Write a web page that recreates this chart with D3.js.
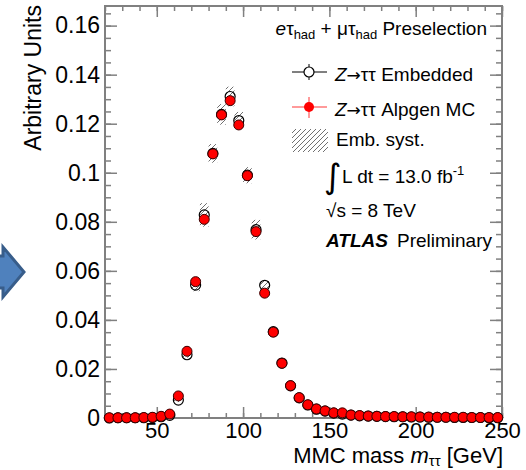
<!DOCTYPE html>
<html>
<head>
<meta charset="utf-8">
<script src="https://cdn.jsdelivr.net/npm/d3@7"></script>
<style>
  body { margin: 0; background: #fff; }
  svg { display: block; font-family: "Liberation Sans", Arial, Helvetica, sans-serif; }
</style>
</head>
<body>
<div id="chart"></div>
<script>
// bin centres of the 5 GeV bins
const binCenters = [22.5, 27.5, 32.5, 37.5, 42.5, 47.5, 52.5, 57.5, 62.5, 67.5, 72.5, 77.5, 82.5, 87.5,
  92.5, 97.5, 102.5, 107.5, 112.5, 117.5, 122.5, 127.5, 132.5, 137.5, 142.5, 147.5, 152.5, 157.5,
  162.5, 167.5, 172.5, 177.5, 182.5, 187.5, 192.5, 197.5, 202.5, 207.5, 212.5, 217.5, 222.5, 227.5,
  232.5, 237.5, 242.5, 247.5];

const embedded = [0.0000, 0.0001, 0.0001, 0.0001, 0.0001, 0.0002, 0.0005, 0.0011,
  0.0073, 0.0258, 0.0542, 0.0828, 0.1079, 0.1238, 0.1311, 0.1213, 0.0990, 0.0768, 0.0541,
  0.0352, 0.0224, 0.0131, 0.0082, 0.0053, 0.0036, 0.0028, 0.0020, 0.0016,
  0.0012, 0.0009, 0.0008, 0.0007, 0.0006, 0.0005, 0.0005, 0.0004, 0.0004, 0.0003, 0.0003, 0.0003,
  0.0002, 0.0002, 0.0002, 0.0002, 0.0001, 0.0001];

const alpgen = [0.0001, 0.0001, 0.0001, 0.0001, 0.0002, 0.0003, 0.0007, 0.0016,
  0.0090, 0.0272, 0.0556, 0.0810, 0.1077, 0.1236, 0.1294, 0.1195, 0.0988, 0.0760, 0.0509,
  0.0350, 0.0223, 0.0132, 0.0083, 0.0054, 0.0037, 0.0029, 0.0021, 0.0021,
  0.0012, 0.0010, 0.0008, 0.0007, 0.0006, 0.0006, 0.0005, 0.0005, 0.0004, 0.0004, 0.0003, 0.0003,
  0.0003, 0.0003, 0.0002, 0.0002, 0.0002, 0.0002];

// embedding systematic (absolute, +-)
const embSyst = [0, 0, 0, 0, 0, 0.0001, 0.0002, 0.0003,
  0.0008, 0.0012, 0.0025, 0.0048, 0.0038, 0.0042, 0.0040, 0.0035, 0.0033, 0.0040, 0.0022,
  0.0012, 0.0008, 0.0005, 0.0003, 0.0002, 0.0002, 0.0001, 0.0001, 0.0001,
  0.0001, 0.0001, 0.0001, 0.0001, 0, 0, 0, 0, 0, 0, 0, 0, 0, 0, 0, 0, 0, 0];

const yTicks = [0, 0.02, 0.04, 0.06, 0.08, 0.1, 0.12, 0.14, 0.16];
const xTicks = [50, 100, 150, 200, 250];

const width = 526;
const height = 470;
const frame = {left: 105, right: 502, top: 6, bottom: 418};
const binHalf = 2.5;
const markerRadius = 5;
const tickColor = '#808080';

const svg = d3.select('#chart').append('svg')
  .attr('width', width)
  .attr('height', height);

const x = d3.scaleLinear().domain([20, 250]).range([frame.left, frame.right]);
const y = d3.scaleLinear().domain([0, 0.168]).range([frame.bottom, frame.top]);

// hatch pattern for the syst band
const defs = svg.append('defs');
defs.append('pattern')
    .attr('id', 'hatch')
    .attr('patternUnits', 'userSpaceOnUse')
    .attr('width', 5)
    .attr('height', 5)
  .append('path')
    .attr('d', 'M-1,1 l2,-2 M0,5 l5,-5 M4,6 l2,-2')
    .attr('stroke', '#707070')
    .attr('stroke-width', 1);

// blue arrow from the slide, cut by the left edge
svg.append('polygon')
  .attr('points', '-40,256 3,256 3,247 24,272 3,297 3,288 -40,288')
  .attr('fill', '#4f81bd')
  .attr('stroke', '#385d8a')
  .attr('stroke-width', 3);

// axes
const styleAxis = g => {
  g.select('.domain').remove();
  g.selectAll('.tick line').attr('stroke', tickColor).attr('stroke-width', 1.5);
  g.selectAll('.tick text').attr('fill', '#000').attr('font-family', null);
};

svg.append('g')
  .attr('transform', `translate(${frame.left},0)`)
  .call(d3.axisLeft(y).tickValues(yTicks).tickSize(-12).tickPadding(5).tickFormat(d3.format('~g')))
  .call(styleAxis)
  .call(g => g.selectAll('.tick text').attr('font-size', 23));

svg.append('g')
  .attr('transform', `translate(${frame.left},0)`)
  .call(d3.axisLeft(y).tickValues(d3.range(0, 0.1675, 0.005)).tickSize(-6).tickFormat(''))
  .call(styleAxis);

svg.append('g')
  .attr('transform', `translate(${frame.right},0)`)
  .call(d3.axisRight(y).tickValues(yTicks).tickSize(-12).tickFormat(''))
  .call(styleAxis);

svg.append('g')
  .attr('transform', `translate(${frame.right},0)`)
  .call(d3.axisRight(y).tickValues(d3.range(0, 0.1675, 0.005)).tickSize(-6).tickFormat(''))
  .call(styleAxis);

svg.append('g')
  .attr('transform', `translate(0,${frame.bottom})`)
  .call(d3.axisBottom(x).tickValues(xTicks).tickSize(-11).tickPadding(4))
  .call(styleAxis)
  .call(g => g.selectAll('.tick text').attr('font-size', 22));

svg.append('g')
  .attr('transform', `translate(0,${frame.bottom})`)
  .call(d3.axisBottom(x).tickValues(d3.range(20, 251, 10)).tickSize(-5).tickFormat(''))
  .call(styleAxis);

svg.append('g')
  .attr('transform', `translate(0,${frame.top})`)
  .call(d3.axisTop(x).tickValues(xTicks).tickSize(-11).tickFormat(''))
  .call(styleAxis);

svg.append('g')
  .attr('transform', `translate(0,${frame.top})`)
  .call(d3.axisTop(x).tickValues(d3.range(20, 251, 10)).tickSize(-5).tickFormat(''))
  .call(styleAxis);

svg.append('rect')
  .attr('x', frame.left)
  .attr('y', frame.top)
  .attr('width', frame.right - frame.left)
  .attr('height', frame.bottom - frame.top)
  .attr('fill', 'none')
  .attr('stroke', tickColor)
  .attr('stroke-width', 2);

// axis titles
svg.append('text')
  .attr('transform', `translate(41,${frame.top - 1}) rotate(-90)`)
  .attr('text-anchor', 'end')
  .attr('font-size', 23)
  .text('Arbitrary Units');

const xTitle = svg.append('text')
  .attr('x', 503)
  .attr('y', 463)
  .attr('text-anchor', 'end')
  .attr('font-size', 22);
xTitle.append('tspan').text('MMC mass ');
xTitle.append('tspan').attr('font-style', 'italic').text('m');
xTitle.append('tspan').attr('font-size', 15).attr('dy', 3).text('ττ');
xTitle.append('tspan').attr('dy', -3).text(' [GeV]');

// data
const bins = binCenters.map((c, i) => ({c, emb: embedded[i], mc: alpgen[i], syst: embSyst[i]}));

svg.append('g')
  .selectAll('rect')
  .data(bins.filter(d => d.syst > 0))
  .join('rect')
    .attr('x', d => x(d.c - binHalf))
    .attr('width', d => x(d.c + binHalf) - x(d.c - binHalf))
    .attr('y', d => y(d.emb + d.syst))
    .attr('height', d => y(d.emb - d.syst) - y(d.emb + d.syst))
    .attr('fill', 'url(#hatch)');

svg.append('g')
  .selectAll('circle')
  .data(bins)
  .join('circle')
    .attr('cx', d => x(d.c))
    .attr('cy', d => y(d.emb))
    .attr('r', markerRadius)
    .attr('fill', 'none')
    .attr('stroke', '#000')
    .attr('stroke-width', 1.2);

svg.append('g')
  .selectAll('circle')
  .data(bins)
  .join('circle')
    .attr('cx', d => x(d.c))
    .attr('cy', d => y(d.mc))
    .attr('r', markerRadius)
    .attr('fill', '#ff0000')
    .attr('stroke', '#3a0000')
    .attr('stroke-width', 1);

// legend
const legendFont = 19;
const subFont = 13;

const header = svg.append('text')
  .attr('x', 487)
  .attr('y', 35)
  .attr('text-anchor', 'end')
  .attr('font-size', legendFont);
header.append('tspan').attr('font-style', 'italic').text('e');
header.append('tspan').text('τ');
header.append('tspan').attr('font-size', subFont).attr('dy', 4).text('had');
header.append('tspan').attr('dy', -4).text(' + μτ');
header.append('tspan').attr('font-size', subFont).attr('dy', 4).text('had');
header.append('tspan').attr('dy', -4).text(' Preselection');

const entry = (cy, label) => {
  const t = svg.append('text')
    .attr('x', 335)
    .attr('y', cy + 9)
    .attr('font-size', legendFont);
  t.append('tspan').attr('font-style', 'italic').text('Z');
  t.append('tspan').attr('font-family', '"DejaVu Sans", sans-serif').attr('font-size', 17).text('→');
  t.append('tspan').text('ττ ' + label);
};

// embedded entry
svg.append('path')
  .attr('d', 'M292,72 H327 M309,64 V80')
  .attr('stroke', '#000')
  .attr('stroke-width', 1);
svg.append('circle')
  .attr('cx', 309).attr('cy', 72).attr('r', markerRadius)
  .attr('fill', '#fff').attr('stroke', '#000').attr('stroke-width', 1.2);
entry(72, 'Embedded');

// alpgen entry
svg.append('path')
  .attr('d', 'M292,107 H327 M309,97 V118')
  .attr('stroke', '#ff7a7a')
  .attr('stroke-width', 1.5);
svg.append('circle')
  .attr('cx', 309).attr('cy', 107).attr('r', markerRadius)
  .attr('fill', '#ff0000');
entry(107, 'Alpgen MC');

// syst entry
svg.append('rect')
  .attr('x', 292).attr('y', 129).attr('width', 36).attr('height', 23)
  .attr('fill', 'url(#hatch)');
svg.append('text')
  .attr('x', 336).attr('y', 146)
  .attr('font-size', legendFont)
  .text('Emb. syst.');

svg.append('text')
  .attr('x', 324).attr('y', 188)
  .attr('font-size', 34)
  .attr('font-family', '"DejaVu Sans", sans-serif')
  .text('∫');
const lumi = svg.append('text')
  .attr('x', 342).attr('y', 183)
  .attr('font-size', legendFont);
lumi.append('tspan').text('L dt = 13.0 fb');
lumi.append('tspan').attr('font-size', subFont).attr('dy', -8).text('-1');

svg.append('text')
  .attr('x', 326).attr('y', 217)
  .attr('font-size', legendFont)
  .text('√s = 8 TeV');

svg.append('text')
  .attr('x', 326).attr('y', 247)
  .attr('font-size', legendFont)
  .attr('font-weight', 'bold')
  .attr('font-style', 'italic')
  .text('ATLAS');
svg.append('text')
  .attr('x', 397).attr('y', 247)
  .attr('font-size', legendFont)
  .text('Preliminary');
</script>
</body>
</html>
